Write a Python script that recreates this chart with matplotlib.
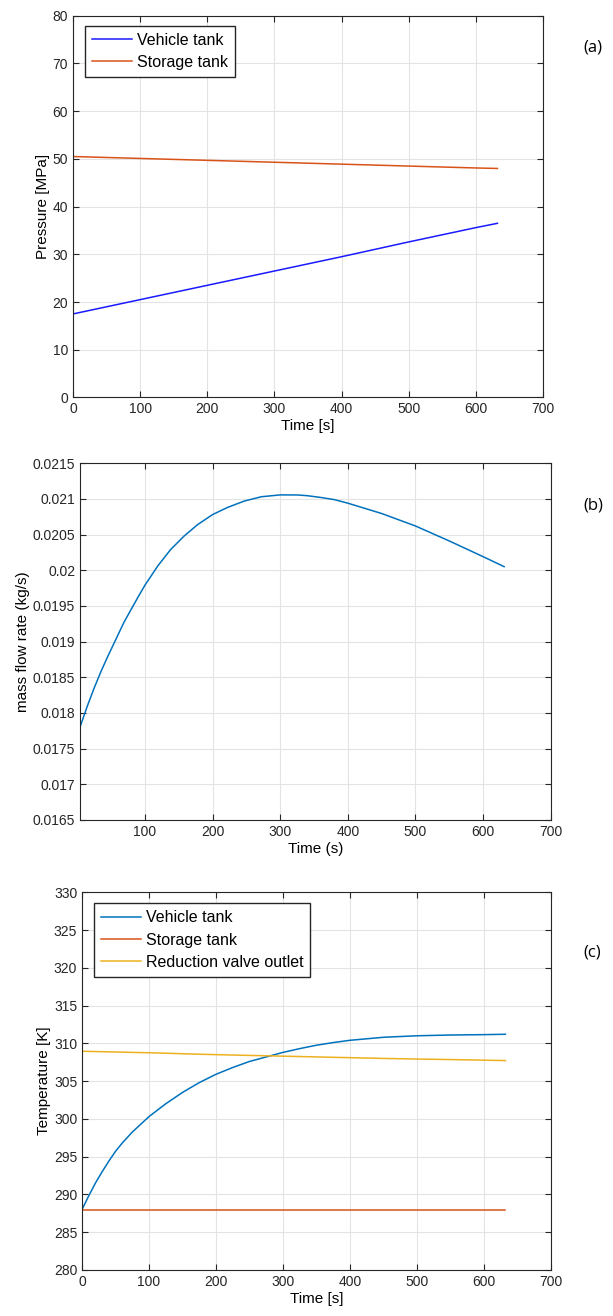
import numpy as np
import matplotlib
matplotlib.use('Agg')
import matplotlib.pyplot as plt

# (a) pressure
t_p = [0, 100, 200, 300, 400, 500, 600, 632]
p_vehicle = [17.5, 20.5, 23.5, 26.5, 29.5, 32.6, 35.6, 36.5]
p_storage = [50.5, 50.1, 49.7, 49.3, 48.9, 48.5, 48.1, 48.0]

# (b) mass flow rate
t_m = [4, 15, 25, 35, 45, 54, 69, 89, 100, 119, 138, 158, 178, 200, 222,
       247, 272, 300, 326, 340, 360, 380, 400, 450, 500, 550, 600, 631]
m_flow = [0.01780, 0.01810, 0.01835, 0.01858, 0.01879, 0.01897, 0.01927,
          0.01961, 0.01979, 0.02006, 0.02029, 0.02048, 0.02064, 0.02078,
          0.02088, 0.02097, 0.02103, 0.021056, 0.021055, 0.021045, 0.02102,
          0.02099, 0.02094, 0.020795, 0.02062, 0.02041, 0.02019, 0.02005]

# (c) temperature
t_T = [0, 10, 20, 30, 40, 50, 60, 75, 100, 125, 150, 175, 200, 225, 250,
       275, 300, 325, 350, 375, 400, 450, 500, 550, 600, 632]
T_vehicle = [288.0, 289.8, 291.5, 293.0, 294.4, 295.7, 296.8, 298.25, 300.3,
             302.0, 303.5, 304.8, 305.9, 306.8, 307.6, 308.2, 308.8, 309.3,
             309.75, 310.1, 310.4, 310.8, 311.0, 311.1, 311.15, 311.2]
T_storage = [288.0] * len(t_T)
T_valve = [308.95, 308.93, 308.91, 308.89, 308.87, 308.85, 308.83, 308.8,
           308.75, 308.69, 308.62, 308.56, 308.5, 308.45, 308.4, 308.35,
           308.3, 308.25, 308.2, 308.15, 308.1, 308.0, 307.92, 307.85,
           307.77, 307.72]

blue = '#0072BD'
orange = '#D95319'
yellow = '#EDB120'

plt.rcParams['font.family'] = ['Liberation Sans', 'DejaVu Sans']
plt.rcParams['font.size'] = 10

legend_kw = dict(loc='upper left', fancybox=False, edgecolor='#262626',
                 framealpha=1, fontsize=11.5, handlelength=2.5, borderpad=0.45,
                 labelspacing=0.45, handletextpad=0.3, borderaxespad=0)


def style(ax):
    ax.grid(True, color='#e3e3e3', linewidth=0.8)
    ax.set_axisbelow(True)
    ax.tick_params(direction='in', top=True, right=True, length=4,
                   colors='#262626', labelcolor='#262626', labelsize=10)
    for s in ax.spines.values():
        s.set_color('#262626')
        s.set_linewidth(0.8)


fig = plt.figure(figsize=(6.13, 13.16), dpi=100)

ax1 = fig.add_axes([0.119, 0.698, 0.767, 0.290])
ax1.plot(t_p, p_vehicle, color='#1a1aff', linewidth=1.1, label='Vehicle tank')
ax1.plot(t_p, p_storage, color=orange, linewidth=1.1, label='Storage tank')
ax1.set_xlim(0, 700)
ax1.set_ylim(0, 80)
ax1.set_xticks(range(0, 701, 100))
ax1.set_yticks(range(0, 81, 10))
ax1.set_xlabel('Time [s]', fontsize=11, labelpad=2)
ax1.set_ylabel('Pressure [MPa]', fontsize=11, labelpad=2)
style(ax1)
ax1.legend(bbox_to_anchor=(0.025, 0.974), **legend_kw)

ax2 = fig.add_axes([0.1305, 0.377, 0.768, 0.271])
ax2.plot(t_m, m_flow, color=blue, linewidth=1.1)
ax2.set_xlim(4, 700)
ax2.set_ylim(0.0165, 0.0215)
ax2.set_xticks(range(100, 701, 100))
ax2.set_yticks(np.arange(0.0165, 0.02151, 0.0005))
ax2.set_yticklabels(['0.0165', '0.017', '0.0175', '0.018', '0.0185', '0.019',
                     '0.0195', '0.02', '0.0205', '0.021', '0.0215'])
ax2.set_xlabel('Time (s)', fontsize=11, labelpad=2)
ax2.set_ylabel('mass flow rate (kg/s)', fontsize=11, labelpad=2)
style(ax2)

ax3 = fig.add_axes([0.1338, 0.035, 0.765, 0.287])
ax3.plot(t_T, T_vehicle, color=blue, linewidth=1.1, label='Vehicle tank')
ax3.plot(t_T, T_storage, color=orange, linewidth=1.1, label='Storage tank')
ax3.plot(t_T, T_valve, color=yellow, linewidth=1.1,
         label='Reduction valve outlet')
ax3.set_xlim(0, 700)
ax3.set_ylim(280, 330)
ax3.set_xticks(range(0, 701, 100))
ax3.set_yticks(range(280, 331, 5))
ax3.set_xlabel('Time [s]', fontsize=11, labelpad=2)
ax3.set_ylabel('Temperature [K]', fontsize=11, labelpad=2)
style(ax3)
ax3.legend(bbox_to_anchor=(0.025, 0.971), **legend_kw)

for y, lab in [(0.961, '(a)'), (0.613, '(b)'), (0.273, '(c)')]:
    fig.text(0.951, y, lab, fontsize=12, family=['Open Sans', 'DejaVu Sans'])

fig.savefig('out.png', dpi=100)
